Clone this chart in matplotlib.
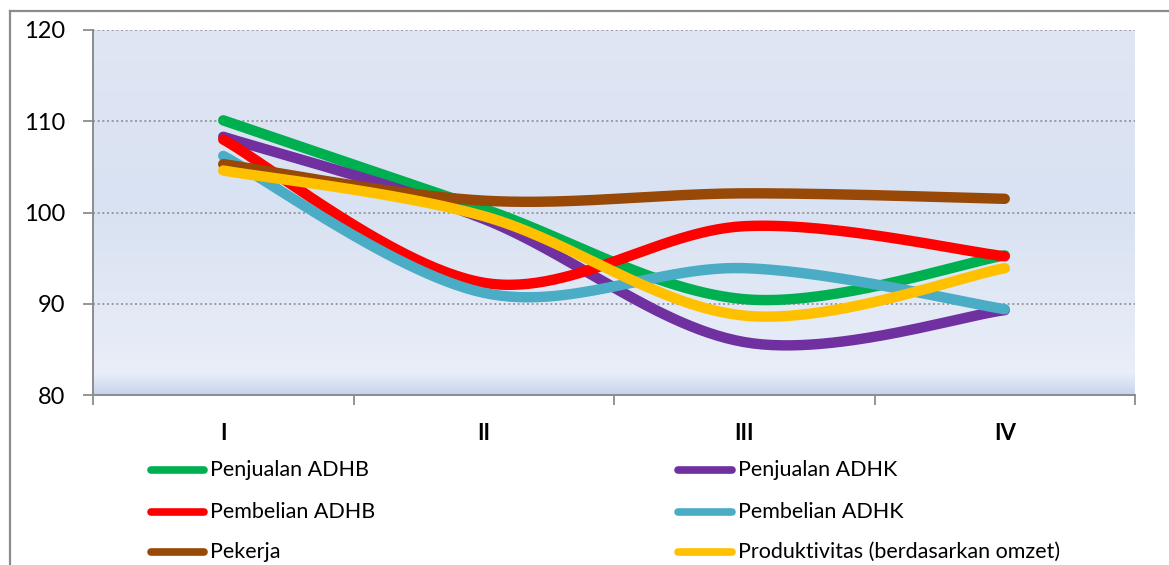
import numpy as np
import matplotlib
matplotlib.use("Agg")
import matplotlib.pyplot as plt
from matplotlib.colors import LinearSegmentedColormap
from matplotlib.lines import Line2D

plt.rcParams['font.family'] = ['Lato', 'DejaVu Sans']

# Quarterly indices
quarters = ["I", "II", "III", "IV"]
penjualan_adhb = [110.1, 100.4, 90.5, 95.3]
penjualan_adhk = [108.3, 99.3, 85.8, 89.3]
pembelian_adhb = [108.0, 92.3, 98.5, 95.2]
pembelian_adhk = [106.2, 91.2, 93.9, 89.4]
pekerja = [105.3, 101.3, 102.1, 101.5]
produktivitas = [104.6, 99.6, 88.7, 93.9]

series_names = ["Penjualan ADHB", "Penjualan ADHK", "Pembelian ADHB",
                "Pembelian ADHK", "Pekerja", "Produktivitas (berdasarkan omzet)"]
series_values = [penjualan_adhb, penjualan_adhk, pembelian_adhb,
                 pembelian_adhk, pekerja, produktivitas]
series_colors = ["#00b050", "#7030a0", "#ff0000", "#4bacc6", "#984807", "#ffc000"]

y_ticks = [80, 90, 100, 110, 120]


def smooth(xs, ys, n=60):
    """Catmull-Rom style cubic Bezier through every point."""
    pts = np.column_stack([xs, ys]).astype(float)
    ext = np.vstack([pts[0], pts, pts[-1]])
    out = []
    t = np.linspace(0, 1, n)[:, None]
    for i in range(len(pts) - 1):
        p0, p1, p2, p3 = ext[i], ext[i + 1], ext[i + 2], ext[i + 3]
        c1 = p1 + (p2 - p0) / 6.0
        c2 = p2 - (p3 - p1) / 6.0
        seg = ((1 - t) ** 3) * p1 + 3 * ((1 - t) ** 2) * t * c1 \
            + 3 * (1 - t) * t ** 2 * c2 + t ** 3 * p2
        out.append(seg if i == 0 else seg[1:])
    seg = np.vstack(out)
    return seg[:, 0], seg[:, 1]


W, H = 1169, 565
fig = plt.figure(figsize=(W / 100, H / 100), dpi=100)

# outer chart frame (top and left edges visible)
fig.add_artist(Line2D([10 / W, 1.0], [1 - 11 / H, 1 - 11 / H], color="#8c8c8c", lw=1.6))
fig.add_artist(Line2D([10 / W, 10 / W], [0, 1 - 11 / H], color="#8c8c8c", lw=1.6))

left, right, top, bottom = 93, 1135, 30, 395
ax = fig.add_axes([left / W, 1 - bottom / H, (right - left) / W, (bottom - top) / H])

# plot area gradient
grad_cmap = LinearSegmentedColormap.from_list("pa", [
    (0.0, "#c4d2ee"), (0.025, "#d6e0f3"), (0.06, "#e9eef8"),
    (0.5, "#d9e2f2"), (1.0, "#dfe6f4")])
ax.imshow(np.linspace(0, 1, 256)[:, None], aspect="auto", cmap=grad_cmap,
          extent=[0, 4, 80, 120], origin="lower", zorder=0)

ax.set_xlim(0, 4)
ax.set_ylim(80, 120)

for v in y_ticks[1:]:
    ax.axhline(v, color="#8f8f8f", lw=1.2, ls=(0, (1.2, 1.6)), zorder=1)

xs = np.arange(len(quarters)) + 0.5
for vals, col in zip(series_values, series_colors):
    sx, sy = smooth(xs, vals)
    ax.plot(sx, sy, color=col, lw=7.5, solid_capstyle="round",
            solid_joinstyle="round", zorder=3)

for s in ["top", "right"]:
    ax.spines[s].set_visible(False)
for s in ["left", "bottom"]:
    ax.spines[s].set_color("#8c8c8c")
    ax.spines[s].set_linewidth(1.4)

ax.set_yticks(y_ticks)
ax.set_yticklabels([str(v) for v in y_ticks], fontsize=17)
ax.tick_params(axis="y", length=7, width=1.3, color="#8c8c8c", pad=13)

ax.set_xticks(np.arange(0, 5))
ax.set_xticklabels([])
ax.tick_params(axis="x", which="major", length=7, width=1.3, color="#8c8c8c")
ax.set_xticks(xs, minor=True)
ax.set_xticklabels(quarters, minor=True, fontsize=16, fontweight="bold")
ax.tick_params(axis="x", which="minor", length=0, pad=20)

# legend in two columns
rows_y = [470, 512, 552]
col_x = [(151, 204, 210), (678, 732, 738)]
for i, (name, col) in enumerate(zip(series_names, series_colors)):
    r, c = divmod(i, 2)
    x0, x1, xt = col_x[c]
    yy = 1 - rows_y[r] / H
    fig.add_artist(Line2D([x0 / W, x1 / W], [yy, yy], color=col, lw=5.5,
                          solid_capstyle="round"))
    fig.text(xt / W, yy, name, fontsize=15.5, va="center", ha="left")

fig.savefig("out.png", dpi=100)
